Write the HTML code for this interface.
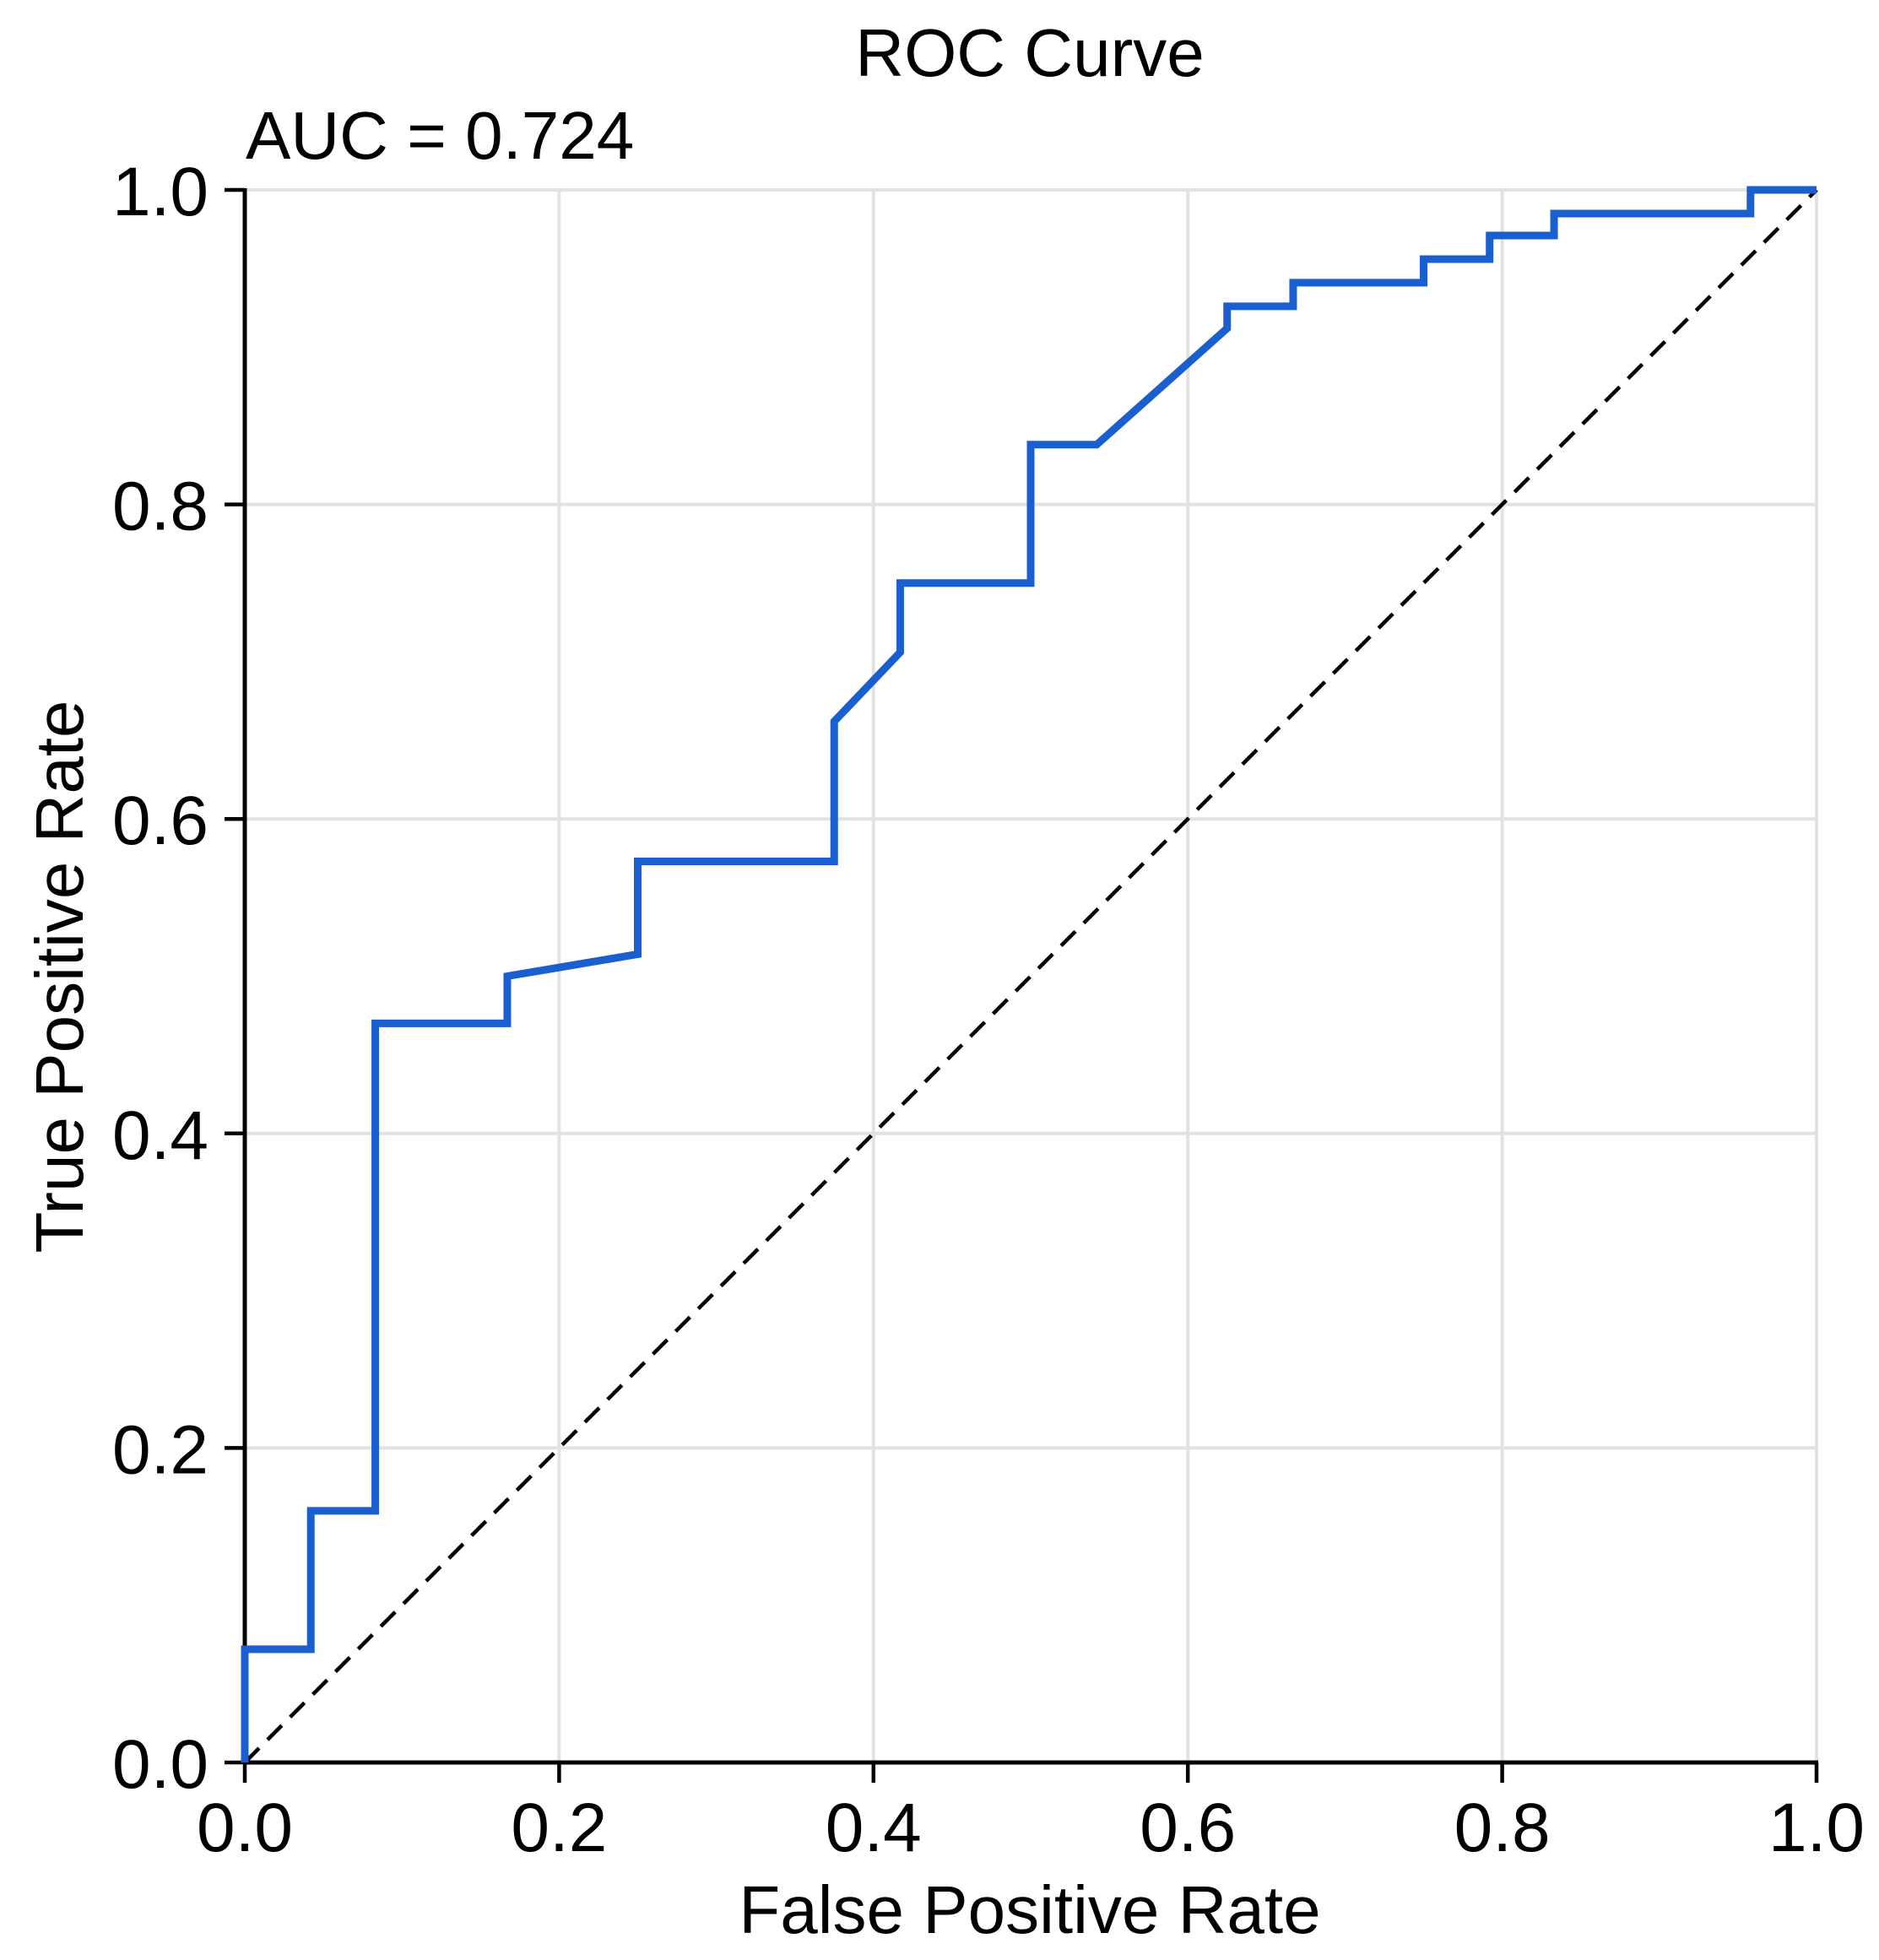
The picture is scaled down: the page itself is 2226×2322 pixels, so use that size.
<!DOCTYPE html>
<html><head><meta charset="utf-8"><style>
html,body{margin:0;padding:0;background:#fff;}
svg{display:block;font-family:"Liberation Sans",sans-serif;}
</style></head><body>
<svg id="chart" width="2226" height="2322" viewBox="0 0 2226 2322" xmlns="http://www.w3.org/2000/svg">
<g id="grid"></g>
<g id="axes"></g>
<path id="diag" fill="none" stroke="#000" stroke-width="4.5" stroke-dasharray="24,14"></path>
<path id="roc" fill="none" stroke="#1a5fd0" stroke-width="9" stroke-linejoin="miter"></path>
<text x="1220" y="90" font-size="80" text-anchor="middle">ROC Curve</text>
<text x="291" y="188" font-size="80">AUC = 0.724</text>
<text x="1220" y="2290" font-size="80" text-anchor="middle">False Positive Rate</text>
<text x="0" y="0" font-size="80" text-anchor="middle" transform="translate(98,1157) rotate(-90)">True Positive Rate</text>
</svg>
<script>
const fpr = [0,0,0.042,0.042,0.083,0.083,0.167,0.167,0.25,0.25,0.375,0.375,0.417,0.417,0.5,0.5,0.542,0.625,0.625,0.667,0.667,0.75,0.75,0.792,0.792,0.833,0.833,0.958,0.958,1];
const tpr = [0,0.072,0.072,0.16,0.16,0.47,0.47,0.50,0.514,0.573,0.573,0.662,0.706,0.75,0.75,0.838,0.838,0.912,0.926,0.926,0.941,0.941,0.956,0.956,0.971,0.971,0.985,0.985,1,1];
const xTicks = [0,0.2,0.4,0.6,0.8,1.0];
const yTicks = [0,0.2,0.4,0.6,0.8,1.0];
const X0=290,X1=2152,Y0=2088,Y1=225;
const sx=v=>X0+(X1-X0)*v, sy=v=>Y0-(Y0-Y1)*v;
const NS="http://www.w3.org/2000/svg";
const grid=document.getElementById('grid'), axes=document.getElementById('axes');
function mk(tag,attrs,parent){const e=document.createElementNS(NS,tag);for(const k in attrs)e.setAttribute(k,attrs[k]);parent.appendChild(e);return e;}
xTicks.forEach(t=>{
  const g=mk('line',{x1:sx(t),x2:sx(t),y1:Y1,y2:Y0,stroke:'#e2e2e2','stroke-width':4},grid);
  
  
  const tk=mk('line',{x1:sx(t),x2:sx(t),y1:Y0,y2:Y0+24,stroke:'#000','stroke-width':4.5},axes);
  
  
  const tx=mk('text',{x:sx(t),y:2193,'font-size':82,'text-anchor':'middle'},axes);
  tx.textContent=t.toFixed(1);
  
  
});
yTicks.forEach(t=>{
  const g=mk('line',{x1:X0,x2:X1,y1:sy(t),y2:sy(t),stroke:'#e2e2e2','stroke-width':4},grid);
  
  
  const tk=mk('line',{x1:X0-24,x2:X0,y1:sy(t),y2:sy(t),stroke:'#000','stroke-width':4.5},axes);
  
  
  const tx=mk('text',{x:247,y:sy(t)+30,'font-size':82,'text-anchor':'end'},axes);
  tx.textContent=t.toFixed(1);
  
  
});
const xa=mk('line',{x1:X0-2,x2:X1+2,y1:Y0,y2:Y0,stroke:'#000','stroke-width':5},axes);


const ya=mk('line',{x1:X0,x2:X0,y1:Y1-2,y2:Y0,stroke:'#000','stroke-width':5},axes);


document.getElementById('diag').setAttribute('d',`M${sx(0)},${sy(0)}L${sx(1)},${sy(1)}`);
document.getElementById('roc').setAttribute('d',fpr.map((v,i)=>(i?'L':'M')+sx(v)+','+sy(tpr[i])).join(''));
</script>
</body></html>
